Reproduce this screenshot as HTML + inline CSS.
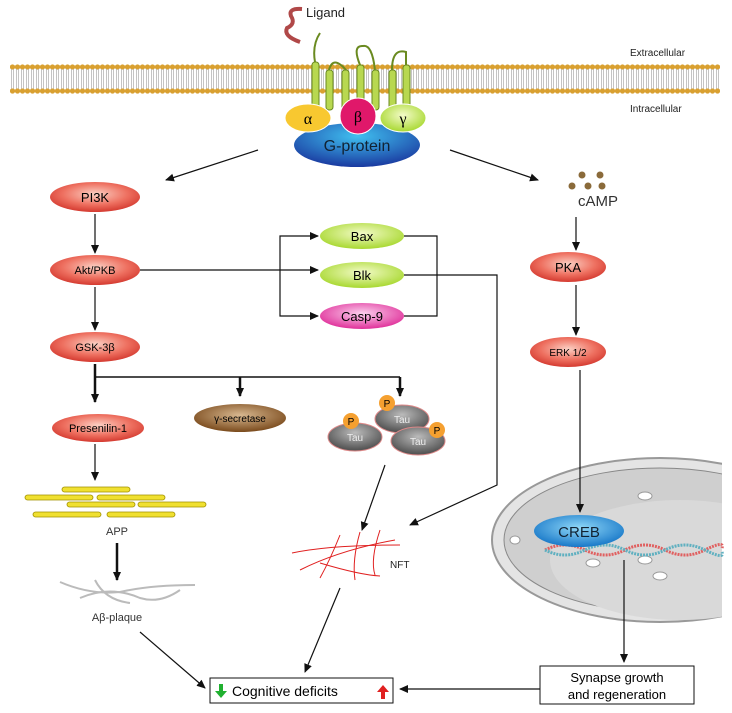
<!DOCTYPE html>
<html><head><meta charset="utf-8"><style>
html,body{margin:0;padding:0;background:#fff}
svg{display:block;font-family:"Liberation Sans",sans-serif}
</style></head><body>
<svg width="732" height="713" viewBox="0 0 732 713" xmlns="http://www.w3.org/2000/svg">
<defs>
<marker id="a" markerWidth="10" markerHeight="10" refX="8" refY="5" orient="auto" markerUnits="userSpaceOnUse"><path d="M0,1 L9,5 L0,9 z" fill="#111"/></marker>
<radialGradient id="red" cx="50%" cy="40%" r="60%"><stop offset="0" stop-color="#fbd0c4"/><stop offset="0.6" stop-color="#ee7060"/><stop offset="1" stop-color="#d43a30"/></radialGradient>
<radialGradient id="grn" cx="50%" cy="40%" r="60%"><stop offset="0" stop-color="#f3fbc8"/><stop offset="1" stop-color="#a8d830"/></radialGradient>
<radialGradient id="pink" cx="50%" cy="40%" r="60%"><stop offset="0" stop-color="#fbd0ee"/><stop offset="1" stop-color="#e0309a"/></radialGradient>
<radialGradient id="brn" cx="50%" cy="40%" r="60%"><stop offset="0" stop-color="#d8b890"/><stop offset="1" stop-color="#7a4a1c"/></radialGradient>
<radialGradient id="gry" cx="50%" cy="35%" r="60%"><stop offset="0" stop-color="#bbb"/><stop offset="1" stop-color="#555"/></radialGradient>
<radialGradient id="blu" cx="50%" cy="30%" r="70%"><stop offset="0" stop-color="#40c0f0"/><stop offset="1" stop-color="#1a3aa0"/></radialGradient>
<radialGradient id="creb" cx="50%" cy="40%" r="60%"><stop offset="0" stop-color="#90d8f8"/><stop offset="1" stop-color="#1878c8"/></radialGradient>
<pattern id="lip" x="10" y="64" width="5" height="30" patternUnits="userSpaceOnUse"><circle cx="2.5" cy="3" r="2.6" fill="#d9a030"/><line x1="1.5" y1="5" x2="1.5" y2="25" stroke="#aaa" stroke-width="0.7"/><line x1="3.5" y1="5" x2="3.5" y2="25" stroke="#aaa" stroke-width="0.7"/><circle cx="2.5" cy="27" r="2.6" fill="#d9a030"/></pattern>
</defs>

<!-- membrane -->
<rect x="10" y="64" width="710" height="30" fill="url(#lip)"/>
<text x="630" y="56" font-size="10" fill="#222">Extracellular</text>
<text x="630" y="112" font-size="10" fill="#222">Intracellular</text>
<text x="306" y="17" font-size="13" fill="#222">Ligand</text>
<path d="M302,9 Q288,8 291,16 Q296,24 287,28 Q283,36 300,42" fill="none" stroke="#b04848" stroke-width="4"/>
<!-- receptor helices -->
<g fill="#b8d850" stroke="#6a8a20" stroke-width="1">
<rect x="312" y="62" width="7" height="48" rx="3"/><rect x="326" y="70" width="7" height="40" rx="3"/><rect x="342" y="70" width="7" height="40" rx="3"/>
<rect x="357" y="65" width="7" height="45" rx="3"/><rect x="372" y="70" width="7" height="40" rx="3"/><rect x="389" y="70" width="7" height="40" rx="3"/><rect x="403" y="65" width="7" height="45" rx="3"/>
</g>
<path d="M315,62 Q312,45 320,33 M329,70 Q333,55 346,70 M360,65 Q352,45 363,46 Q372,44 375,70 M392,70 Q392,48 406,52 L406,65" fill="none" stroke="#6a8a20" stroke-width="2"/>
<ellipse cx="357" cy="145" rx="63" ry="22" fill="url(#blu)"/>
<text x="357" y="151" font-size="16" text-anchor="middle" fill="#123">G-protein</text>
<ellipse cx="308" cy="118" rx="23" ry="14" fill="#f8c830" stroke="#fff"/>
<ellipse cx="403" cy="118" rx="23" ry="14" fill="url(#grn)" stroke="#fff"/>
<ellipse cx="358" cy="116" rx="18" ry="18" fill="#e0186a" stroke="#fff"/>
<text x="308" y="124" font-size="16" text-anchor="middle" font-family="Liberation Serif">α</text>
<text x="358" y="122" font-size="16" text-anchor="middle" font-family="Liberation Serif">β</text>
<text x="403" y="124" font-size="16" text-anchor="middle" font-family="Liberation Serif">γ</text>

<!-- nucleus -->
<ellipse cx="660" cy="540" rx="168" ry="82" fill="#e4e4e4" stroke="#999" stroke-width="2"/>
<ellipse cx="660" cy="540" rx="156" ry="72" fill="#cfcfcf" stroke="#888"/>
<ellipse cx="680" cy="560" rx="130" ry="60" fill="#d9d9d9"/>
<rect x="722" y="440" width="10" height="200" fill="#fff"/>
<g fill="#fff" stroke="#999"><ellipse cx="515" cy="540" rx="5" ry="4"/><ellipse cx="645" cy="496" rx="7" ry="4"/><ellipse cx="593" cy="563" rx="7" ry="4"/><ellipse cx="645" cy="560" rx="7" ry="4"/><ellipse cx="660" cy="576" rx="7" ry="4"/></g>
<path d="M545,550 Q565,540 585,550 T625,550 T665,550 T705,550 T722,548" fill="none" stroke="#e06060" stroke-width="3" stroke-dasharray="2 1"/>
<path d="M545,550 Q565,560 585,550 T625,550 T665,550 T705,550 T722,552" fill="none" stroke="#60b0c0" stroke-width="3" stroke-dasharray="2 1"/>

<g stroke="#111" stroke-width="1.2" fill="none" marker-end="url(#a)">
<line x1="258" y1="150" x2="166" y2="180"/>
<line x1="450" y1="150" x2="538" y2="180"/>
<line x1="95" y1="214" x2="95" y2="253"/>
<line x1="95" y1="287" x2="95" y2="330"/>
<line x1="576" y1="217" x2="576" y2="250"/>
<line x1="576" y1="285" x2="576" y2="335"/>
<line x1="140" y1="270" x2="318" y2="270"/>
<polyline points="280,270 280,236 318,236"/>
<polyline points="280,270 280,316 318,316"/>
<line x1="95" y1="444" x2="95" y2="480"/>
<line x1="385" y1="465" x2="362" y2="530"/>
<polyline points="404,275 497,275 497,485 410,525"/>
<line x1="340" y1="588" x2="305" y2="672"/>
<line x1="140" y1="632" x2="205" y2="688"/>
<line x1="540" y1="689" x2="400" y2="689"/>
<line x1="580" y1="370" x2="580" y2="512"/>
<line x1="624" y1="560" x2="624" y2="662"/>
</g>
<polyline points="404,236 437,236 437,316 404,316" fill="none" stroke="#111" stroke-width="1.2"/>
<g stroke="#111" stroke-width="2.5" fill="none" marker-end="url(#a)">
<line x1="95" y1="364" x2="95" y2="402"/>
<line x1="240" y1="377" x2="240" y2="396"/>
<line x1="400" y1="377" x2="400" y2="396"/>
<line x1="117" y1="543" x2="117" y2="580"/>
</g>
<line x1="95" y1="377" x2="400" y2="377" stroke="#111" stroke-width="1.5"/>
<ellipse cx="579" cy="531" rx="45" ry="16" fill="url(#creb)"/><text x="579" y="537" font-size="15" text-anchor="middle" fill="#123">CREB</text>

<!-- left nodes -->
<ellipse cx="95" cy="197" rx="45" ry="15" fill="url(#red)"/><text x="95" y="202" font-size="13" text-anchor="middle">PI3K</text>
<ellipse cx="95" cy="270" rx="45" ry="15" fill="url(#red)"/><text x="95" y="274" font-size="11" text-anchor="middle">Akt/PKB</text>
<ellipse cx="95" cy="347" rx="45" ry="15" fill="url(#red)"/><text x="95" y="351" font-size="11" text-anchor="middle">GSK-3β</text>
<ellipse cx="98" cy="428" rx="46" ry="14" fill="url(#red)"/><text x="98" y="432" font-size="11" text-anchor="middle">Presenilin-1</text>
<ellipse cx="240" cy="418" rx="46" ry="14" fill="url(#brn)"/><text x="240" y="422" font-size="10" text-anchor="middle">γ-secretase</text>
<!-- middle -->
<ellipse cx="362" cy="236" rx="42" ry="13" fill="url(#grn)"/><text x="362" y="241" font-size="13" text-anchor="middle">Bax</text>
<ellipse cx="362" cy="275" rx="42" ry="13" fill="url(#grn)"/><text x="362" y="280" font-size="13" text-anchor="middle">Blk</text>
<ellipse cx="362" cy="316" rx="42" ry="13" fill="url(#pink)"/><text x="362" y="321" font-size="13" text-anchor="middle">Casp-9</text>
<!-- right -->
<g fill="#8a6a3a"><circle cx="582" cy="175" r="3.5"/><circle cx="600" cy="175" r="3.5"/><circle cx="572" cy="186" r="3.5"/><circle cx="588" cy="186" r="3.5"/><circle cx="602" cy="186" r="3.5"/></g>
<text x="578" y="206" font-size="15" fill="#333">cAMP</text>
<ellipse cx="568" cy="267" rx="38" ry="15" fill="url(#red)"/><text x="568" y="272" font-size="13" text-anchor="middle">PKA</text>
<ellipse cx="568" cy="352" rx="38" ry="15" fill="url(#red)"/><text x="568" y="356" font-size="10" text-anchor="middle">ERK 1/2</text>

<!-- Tau -->
<ellipse cx="355" cy="437" rx="27" ry="14" fill="url(#gry)" stroke="#d88"/>
<ellipse cx="402" cy="419" rx="27" ry="14" fill="url(#gry)" stroke="#d88"/>
<ellipse cx="418" cy="441" rx="27" ry="14" fill="url(#gry)" stroke="#d88"/>
<text x="355" y="441" font-size="10" text-anchor="middle" fill="#eee">Tau</text>
<text x="402" y="423" font-size="10" text-anchor="middle" fill="#eee">Tau</text>
<text x="418" y="445" font-size="10" text-anchor="middle" fill="#eee">Tau</text>
<g fill="#f5a030"><circle cx="351" cy="421" r="8"/><circle cx="387" cy="403" r="8"/><circle cx="437" cy="430" r="8"/></g>
<g font-size="10" text-anchor="middle"><text x="351" y="425">P</text><text x="387" y="407">P</text><text x="437" y="434">P</text></g>

<!-- APP bars -->
<g fill="#f0e030" stroke="#a09000" stroke-width="0.8">
<rect x="62" y="487" width="68" height="5" rx="2.5"/>
<rect x="25" y="495" width="68" height="5" rx="2.5"/><rect x="97" y="495" width="68" height="5" rx="2.5"/>
<rect x="67" y="502" width="68" height="5" rx="2.5"/><rect x="138" y="502" width="68" height="5" rx="2.5"/>
<rect x="33" y="512" width="68" height="5" rx="2.5"/><rect x="107" y="512" width="68" height="5" rx="2.5"/>
</g>
<text x="117" y="535" font-size="11" text-anchor="middle" fill="#333">APP</text>
<g stroke="#bbb" stroke-width="2" fill="none">
<path d="M60,582 Q90,595 120,592 Q150,585 195,585"/><path d="M80,598 Q110,585 140,598 Q160,604 180,590"/><path d="M95,580 Q105,600 130,603"/>
</g>
<text x="117" y="621" font-size="11" text-anchor="middle" fill="#333">Aβ-plaque</text>

<!-- NFT -->
<g stroke="#e02020" stroke-width="1" fill="none">
<path d="M292,553 Q330,545 400,545"/><path d="M320,563 Q360,575 380,576"/><path d="M340,535 Q330,560 320,578"/><path d="M360,532 Q352,560 355,580"/><path d="M380,530 Q370,560 375,575"/><path d="M300,570 Q340,550 395,540"/>
</g>
<text x="390" y="568" font-size="10" fill="#222">NFT</text>

<!-- boxes -->
<rect x="540" y="666" width="154" height="38" fill="#fff" stroke="#111"/>
<text x="617" y="682" font-size="13" text-anchor="middle">Synapse growth</text>
<text x="617" y="699" font-size="13" text-anchor="middle">and regeneration</text>
<rect x="210" y="678" width="183" height="25" fill="#fff" stroke="#111"/>
<path d="M219,684 h4 v7 h4 l-6,7 l-6,-7 h4z" fill="#20b030"/>
<text x="232" y="696" font-size="14">Cognitive deficits</text>
<path d="M381,699 h4 v-7 h4 l-6,-7 l-6,7 h4z" fill="#e02020"/>
</svg>
</body></html>
